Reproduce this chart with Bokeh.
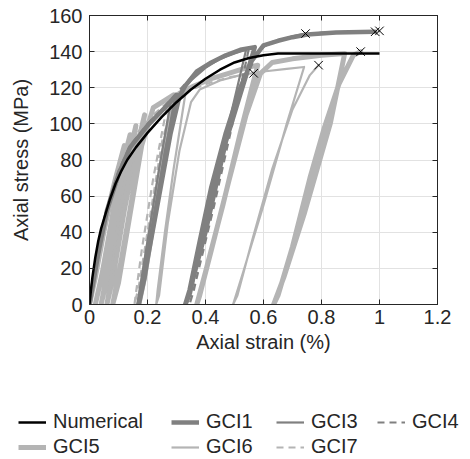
from bokeh.plotting import figure
from bokeh.models import Legend, LegendItem, LinearAxis, FixedTicker, Range1d
from bokeh.embed import file_html
from bokeh.resources import INLINE

# ---------------- data ----------------
x_ticks = [0, 0.2, 0.4, 0.6, 0.8, 1.0, 1.2]
x_tick_labels = ["0", "0.2", "0.4", "0.6", "0.8", "1", "1.2"]
y_ticks = [0, 20, 40, 60, 80, 100, 120, 140, 160]
y_tick_labels = ["0", "20", "40", "60", "80", "100", "120", "140", "160"]

num_strain = [0, 0.005, 0.01, 0.02, 0.03, 0.04, 0.055, 0.07, 0.09, 0.11, 0.13, 0.16, 0.2, 0.25,
              0.3, 0.35, 0.4, 0.45, 0.5, 0.55, 0.6, 0.65, 0.7, 1.0]
num_stress = [0, 8, 15, 26, 35, 42, 50, 58, 67, 74, 80, 87, 95, 104,
              112, 119, 125, 130, 134, 136.5, 138, 139, 139, 139]

gci1_strain = [0, 0.03, 0.06, 0.1, 0.14, 0.2, 0.26, 0.3, 0.215, 0.19, 0.17, 0.2, 0.24, 0.28, 0.31,
               0.33, 0.37, 0.42, 0.47, 0.52, 0.57, 0.47, 0.4, 0.35, 0.33, 0.345, 0.38, 0.42, 0.47,
               0.52, 0.56, 0.6, 0.65, 0.7, 0.75, 0.85, 0.985]
gci1_stress = [0, 28, 52, 72, 87, 99, 109, 116, 40, 15, 0, 25, 60, 95, 115,
               121, 129, 134, 138, 141, 142.5, 90, 40, 10, 0, 8, 35, 65, 95,
               120, 135, 143.5, 146, 148, 149.5, 150.6, 151]

gci3_strain = [0, 0.02, 0.05, 0.08, 0.11, 0.14, 0.19, 0.24, 0.28, 0.24, 0.2, 0.165, 0.18, 0.22,
               0.26, 0.3, 0.35, 0.4, 0.45, 0.5, 0.54, 0.48, 0.42, 0.36, 0.335, 0.35, 0.39, 0.44,
               0.5, 0.55, 0.6, 0.65, 0.7, 0.745]
gci3_stress = [0, 17, 44, 63, 77, 87, 97, 105, 112, 75, 35, 0, 10, 45,
               85, 115, 124, 131, 136, 139, 141, 100, 60, 18, 0, 6, 38, 75,
               110, 133, 143, 146, 148.5, 150]

gci4_strain = [0, 0.02, 0.04, 0.07, 0.1, 0.14, 0.2, 0.25, 0.3, 0.37, 0.43, 0.49, 0.55, 0.5,
               0.43, 0.37, 0.345, 0.36, 0.41, 0.47, 0.53, 0.58, 0.62, 0.7, 0.8, 0.9, 1.0]
gci4_stress = [0, 18, 38, 58, 74, 88, 100, 108, 117, 129, 135, 139, 142, 105,
               55, 15, 0, 8, 45, 88, 122, 140, 145, 148, 150.5, 151, 151.5]

gci5_strain = [0, 0.02, 0.04, 0.06, 0.09, 0.12, 0.08, 0.05, 0.02, 0.04, 0.08, 0.11, 0.14,
               0.1, 0.07, 0.04, 0.06, 0.1, 0.13, 0.16, 0.12, 0.09, 0.06, 0.08, 0.12, 0.16,
               0.19, 0.15, 0.11, 0.08, 0.1, 0.14, 0.18, 0.22, 0.26, 0.29, 0.24, 0.2, 0.17,
               0.19, 0.23, 0.27, 0.31, 0.36, 0.42, 0.48, 0.54, 0.58, 0.52, 0.46, 0.4, 0.37,
               0.38, 0.42, 0.48, 0.54, 0.59, 0.63, 0.7, 0.8, 0.88, 0.83, 0.74, 0.67, 0.635,
               0.65, 0.7, 0.76, 0.81, 0.86, 0.91, 0.935]
gci5_stress = [0, 15, 32, 50, 70, 88, 50, 22, 0, 14, 50, 75, 94,
               55, 25, 0, 14, 52, 78, 99, 60, 28, 0, 14, 52, 85,
               105, 62, 25, 0, 12, 50, 88, 109, 113, 116, 70, 30, 0,
               15, 55, 95, 117, 121, 125, 128, 131, 132.5, 95, 55, 18, 0,
               5, 30, 68, 105, 128, 134, 136, 138, 139, 100, 50, 15, 0,
               5, 32, 70, 98, 122, 138, 140]

gci6_strain = [0, 0.02, 0.05, 0.08, 0.11, 0.14, 0.1, 0.075, 0.06, 0.08, 0.12, 0.16, 0.2, 0.24,
               0.3, 0.33, 0.29, 0.26, 0.235, 0.23, 0.24, 0.27, 0.31, 0.35, 0.38, 0.45, 0.52,
               0.6, 0.68, 0.74, 0.68, 0.6, 0.53, 0.495, 0.51, 0.56, 0.63, 0.7, 0.76, 0.79]
gci6_stress = [0, 14, 38, 58, 74, 85, 48, 18, 0, 15, 55, 85, 98, 106,
               113, 116, 75, 40, 8, 0, 5, 45, 85, 112, 119, 124, 127,
               129, 130.5, 131.5, 100, 55, 18, 0, 5, 35, 75, 108, 127, 132.5]

gci7_strain = [0, 0.02, 0.04, 0.06, 0.08, 0.1, 0.13, 0.17, 0.22, 0.27, 0.22, 0.18, 0.155, 0.17,
               0.21, 0.25, 0.29, 0.35, 0.42, 0.49, 0.566]
gci7_stress = [0, 16, 34, 50, 63, 73, 85, 96, 105, 112, 70, 30, 0, 10,
               50, 90, 113, 119, 123, 126, 128]

series = [
    # name, strain, stress, color, width, dash
    ("GCI5", gci5_strain, gci5_stress, "#b4b4b4", 5, "solid"),
    ("GCI6", gci6_strain, gci6_stress, "#b4b4b4", 2.2, "solid"),
    ("GCI7", gci7_strain, gci7_stress, "#b4b4b4", 2.2, "7 5"),
    ("GCI1", gci1_strain, gci1_stress, "#808080", 4.5, "solid"),
    ("GCI3", gci3_strain, gci3_stress, "#808080", 2.2, "solid"),
    ("GCI4", gci4_strain, gci4_stress, "#808080", 2.2, "7 5"),
]

FONT = "Liberation Sans"
TXT = "#262626"

p = figure(width=470, height=400, output_backend="svg", toolbar_location=None,
           x_range=Range1d(0, 1.2), y_range=Range1d(0, 160),
           min_border_left=89, min_border_right=33, min_border_top=15, min_border_bottom=96)
p.outline_line_color = TXT
p.background_fill_color = "white"
p.border_fill_color = "white"

xb = p.below[0]
yl = p.left[0]
xa = LinearAxis()
yr = LinearAxis()
p.add_layout(yr, "right")
p.add_layout(xa, "above")

xt = FixedTicker(ticks=x_ticks)
yt = FixedTicker(ticks=y_ticks)
xb.ticker = xt
xa.ticker = xt
yl.ticker = yt
yr.ticker = yt
for ax in (xb, xa, yl, yr):
    ax.major_tick_in = 5
    ax.major_tick_out = 0
    ax.minor_tick_line_color = None
    ax.axis_line_color = TXT
    ax.major_tick_line_color = TXT
    ax.major_label_text_font = FONT
    ax.major_label_text_font_size = "20px"
    ax.major_label_text_color = TXT
    ax.axis_label_text_font = FONT
    ax.axis_label_text_font_size = "20px"
    ax.axis_label_text_font_style = "normal"
    ax.axis_label_text_color = TXT

xb.major_label_overrides = dict(zip(x_ticks, x_tick_labels))
yl.major_label_overrides = dict(zip(y_ticks, y_tick_labels))
xb.axis_label = "Axial strain (%)"
yl.axis_label = "Axial stress (MPa)"
xb.major_label_standoff = 5
yl.major_label_standoff = 7
xb.axis_label_standoff = 4
yl.axis_label_standoff = 14
for ax in (xa, yr):
    ax.major_label_text_font_size = "1px"
    ax.major_label_text_color = None
    ax.major_label_standoff = 0

p.xgrid.ticker = xt
p.ygrid.ticker = yt
p.grid.grid_line_color = "#e2e2e2"
p.grid.grid_line_width = 1

for name, sx, sy, col, w, dash in series:
    p.line(sx, sy, line_color=col, line_width=w, line_dash=dash,
           line_join="round", line_cap="round" if dash == "solid" else "butt")
p.line(num_strain, num_stress, line_color="black", line_width=2.5)

end_x = [s[1][-1] for s in series]
end_y = [s[2][-1] for s in series]
p.scatter(end_x, end_y, marker="x", size=12, line_color="black", line_width=1)

# ---------------- legend strip (separate root, full-width frame) ----------------
lp = figure(width=470, height=59, output_backend="svg", toolbar_location=None,
            x_range=Range1d(0, 1.2), y_range=Range1d(0, 160),
            x_axis_location=None, y_axis_location=None,
            min_border_left=0, min_border_right=0, min_border_top=0, min_border_bottom=0)
lp.grid.visible = False
lp.outline_line_color = None
lp.background_fill_color = "white"
lp.border_fill_color = "white"

leg_r = {"Numerical": lp.line(num_strain, num_stress, line_color="black", line_width=2.5,
                              visible=False)}
for name, sx, sy, col, w, dash in series:
    leg_r[name] = lp.line(sx, sy, line_color=col, line_width=w, line_dash=dash, visible=False)

columns = [
    (["Numerical", "GCI5"], 18),
    (["GCI1", "GCI6"], 171),
    (["GCI3", "GCI7"], 276),
    (["GCI4"], 377),
]
for names, xoff in columns:
    items = [LegendItem(label=n, renderers=[leg_r[n]]) for n in names]
    bottom = 1 if len(names) == 2 else 26
    lg = Legend(items=items, location=(xoff, bottom), orientation="vertical",
                border_line_alpha=0, background_fill_alpha=0, padding=0, margin=0,
                spacing=2, glyph_width=28, glyph_height=20, label_height=20,
                label_standoff=7, label_text_font=FONT, label_text_font_size="20px",
                label_text_color=TXT)
    lp.add_layout(lg, "center")

open("out.html", "w").write(file_html([p, lp], INLINE))
